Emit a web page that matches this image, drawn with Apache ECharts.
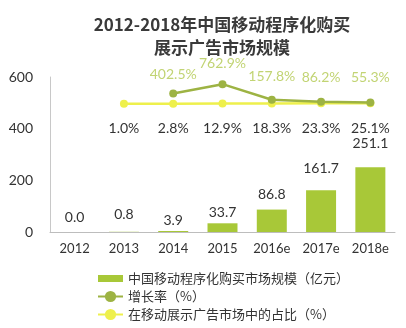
<!DOCTYPE html>
<html>
<head>
<meta charset="utf-8">
<script src="https://cdn.jsdelivr.net/npm/echarts@6/dist/echarts.min.js"></script>
<style>
  html, body { margin: 0; padding: 0; background: #fff; }
  #chart { width: 406px; height: 328px; }
</style>
</head>
<body>
<div id="chart"></div>
<script>
// Years on the category axis
const years = ['2012', '2013', '2014', '2015', '2016e', '2017e', '2018e'];
// Market size, 亿元
const marketSize = [0.0, 0.8, 3.9, 33.7, 86.8, 161.7, 251.1];
// Year-on-year growth, %
const growthRate = [null, null, 402.5, 762.9, 157.8, 86.2, 55.3];
// Share of the mobile display ad market, %
const marketShare = [null, 1.0, 2.8, 12.9, 18.3, 23.3, 25.1];
// Left axis ticks
const leftTicks = { min: 0, max: 600, step: 200 };

// Label spacing per point (pixels above/below the mark)
const barLabelGap = [8, 10, 4, 4, 8, 15, 17];
const growthLabelGap = [0, 0, 8, 10, 12, 13, 14];

const NUM_FONT = 'Lato, "Noto Sans CJK SC", sans-serif';
const CJK_FONT = '"Noto Sans CJK SC", sans-serif';

const chart = echarts.init(document.getElementById('chart'), null, { renderer: 'canvas' });

chart.setOption({
  animation: false,
  backgroundColor: '#ffffff',
  title: {
    text: '2012-2018年中国移动程序化购买\n展示广告市场规模',
    left: 217,
    top: 8,
    textAlign: 'center',
    textStyle: {
      fontFamily: CJK_FONT,
      fontSize: 17,
      fontWeight: 'bold',
      color: '#3a3a3a',
      lineHeight: 23
    }
  },
  legend: {
    orient: 'vertical',
    left: 92,
    top: 267,
    itemWidth: 25,
    itemHeight: 14,
    itemGap: 5,
    textStyle: { fontFamily: CJK_FONT, fontSize: 13, color: '#333' },
    data: [
      { name: '中国移动程序化购买市场规模（亿元）', icon: 'path://M0,0H25V7H0Z' },
      { name: '增长率（%）' },
      { name: '在移动展示广告市场中的占比（%）' }
    ]
  },
  grid: { left: 50, right: 11, top: 77, bottom: 96 },
  xAxis: {
    type: 'category',
    data: years,
    axisLine: { lineStyle: { color: '#bdbdbd', width: 1 } },
    axisTick: { show: false },
    axisLabel: { fontFamily: NUM_FONT, fontSize: 13, color: '#333', margin: 10 }
  },
  yAxis: [
    {
      type: 'value',
      min: leftTicks.min,
      max: leftTicks.max,
      interval: leftTicks.step,
      axisLine: { show: true, lineStyle: { color: '#c8c8c8', width: 1 } },
      axisTick: { show: false },
      splitLine: { show: false },
      axisLabel: { fontFamily: NUM_FONT, fontSize: 14, color: '#333', margin: 17 }
    },
    {
      // percentage axis for both line series, not drawn
      type: 'value',
      min: -4960,
      max: 1040,
      show: false,
      splitLine: { show: false }
    }
  ],
  series: [
    {
      name: '中国移动程序化购买市场规模（亿元）',
      type: 'bar',
      yAxisIndex: 0,
      barWidth: 30,
      itemStyle: { color: '#a8c838' },
      data: marketSize.map((v, i) => ({
        value: v,
        label: { distance: barLabelGap[i] }
      })),
      label: {
        show: true,
        position: 'top',
        fontFamily: NUM_FONT,
        fontSize: 14,
        color: '#333',
        formatter: p => p.value.toFixed(1)
      },
      z: 1
    },
    {
      name: '在移动展示广告市场中的占比（%）',
      type: 'line',
      yAxisIndex: 1,
      symbol: 'circle',
      symbolSize: 8,
      lineStyle: { color: '#eef04c', width: 2.5 },
      itemStyle: { color: '#eef04c' },
      data: marketShare,
      label: {
        show: true,
        position: 'bottom',
        distance: 14,
        fontFamily: NUM_FONT,
        fontSize: 14,
        color: '#333',
        formatter: p => p.value.toFixed(1) + '%'
      },
      z: 2
    },
    {
      name: '增长率（%）',
      type: 'line',
      yAxisIndex: 1,
      symbol: 'circle',
      symbolSize: 8,
      lineStyle: { color: '#9db343', width: 2.5 },
      itemStyle: { color: '#9db343' },
      data: growthRate.map((v, i) => ({
        value: v,
        label: { distance: growthLabelGap[i] }
      })),
      label: {
        show: true,
        position: 'top',
        fontFamily: NUM_FONT,
        fontSize: 14,
        color: '#c2d474',
        formatter: p => p.value.toFixed(1) + '%'
      },
      z: 3
    }
  ]
});
</script>
</body>
</html>
